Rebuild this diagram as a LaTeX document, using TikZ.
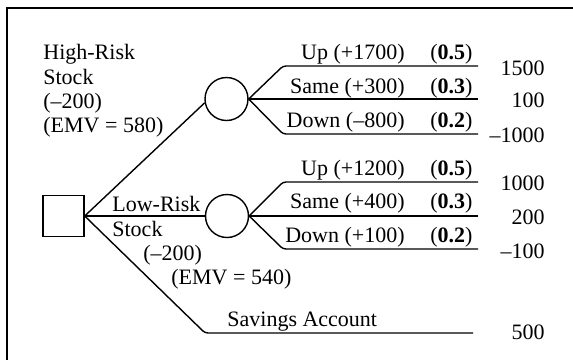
\documentclass[tikz,border=0pt]{standalone}
\usepackage{fontspec}
\setmainfont{Liberation Serif}
\usetikzlibrary{positioning}

\tikzset{
  decision/.style={draw, rectangle, minimum size=20.5pt, inner sep=0pt, line width=0.7pt},
  chance/.style={draw, circle, minimum size=21.5pt, inner sep=0pt, line width=0.7pt},
  branch/.style={line width=0.7pt, rounded corners=1.5pt},
  tree text/.style={inner sep=0pt, font=\fontsize{11}{12.2}\selectfont},
  outcome/.style={tree text, anchor=base east},
  prob/.style={tree text, base right=12.5pt of #1},
  payoff/.style={tree text, anchor=east},
}

\begin{document}
\begin{tikzpicture}[x=0.5pt, y=-0.5pt]
\useasboundingbox (0,0) rectangle (573,360);
\draw[line width=0.7pt] (573,8) -- (7,8) -- (7,360);

\node[decision] (choice) at (63.5,216) {};
\node[chance] (high) at (226.5,99) {};
\node[chance] (low) at (227,216) {};

\coordinate (hup) at (283,66);
\coordinate (hupend) at (478,66);
\coordinate (hsameend) at (478,99);
\coordinate (hdown) at (283,134);
\coordinate (hdownend) at (478,134);
\coordinate (lup) at (283,182);
\coordinate (lupend) at (478,182);
\coordinate (lsameend) at (478,216);
\coordinate (ldown) at (283,249);
\coordinate (ldownend) at (478,249);
\coordinate (sav) at (205,333);
\coordinate (savend) at (473,333);

\draw[branch] (choice.east) -- (high.190);
\draw[branch] (choice.east) -- (low.west);
\draw[branch] (choice.east) -- (sav) -- (savend);
\draw[branch] (high.east) -- (hup) -- (hupend);
\draw[branch] (high.east) -- (hsameend);
\draw[branch] (high.east) -- (hdown) -- (hdownend);
\draw[branch] (low.east) -- (lup) -- (lupend);
\draw[branch] (low.east) -- (lsameend);
\draw[branch] (low.east) -- (ldown) -- (ldownend);

\node[tree text, anchor=north west, align=left] (hightext) at (43,44)
  {High-Risk\\Stock\\(--200)\\(EMV = 580)};
\node[tree text, anchor=north west, align=left] (lowtext) at (112,196)
  {Low-Risk\\Stock};
\node[tree text, anchor=base west] (lowcost) at (143,260) {(--200)};
\node[tree text, anchor=base west] (lowemv) at (171,284) {(EMV = 540)};
\node[tree text, anchor=base west] (savtext) at (227,326) {Savings Account};

\node[outcome] (hu) at (405,59) {Up (+1700)};
\node[outcome] (hs) at (405,93) {Same (+300)};
\node[outcome] (hd) at (405,127) {Down (--800)};
\node[outcome] (lu) at (405,175) {Up (+1200)};
\node[outcome] (ls) at (405,208) {Same (+400)};
\node[outcome] (ld) at (405,242) {Down (+100)};

\node[prob=hu.base east] (phu) {(\textbf{0.5})};
\node[prob=hs.base east] (phs) {(\textbf{0.3})};
\node[prob=hd.base east] (phd) {(\textbf{0.2})};
\node[prob=lu.base east] (plu) {(\textbf{0.5})};
\node[prob=ls.base east] (pls) {(\textbf{0.3})};
\node[prob=ld.base east] (pld) {(\textbf{0.2})};

\node[payoff] (vhu) at (545,68) {1500};
\node[payoff] (vhs) at (545,100) {100};
\node[payoff] (vhd) at (545,135) {--1000};
\node[payoff] (vlu) at (545,183) {1000};
\node[payoff] (vls) at (545,217) {200};
\node[payoff] (vld) at (545,251) {--100};
\node[payoff] (vsav) at (545,332) {500};
\end{tikzpicture}
\end{document}
